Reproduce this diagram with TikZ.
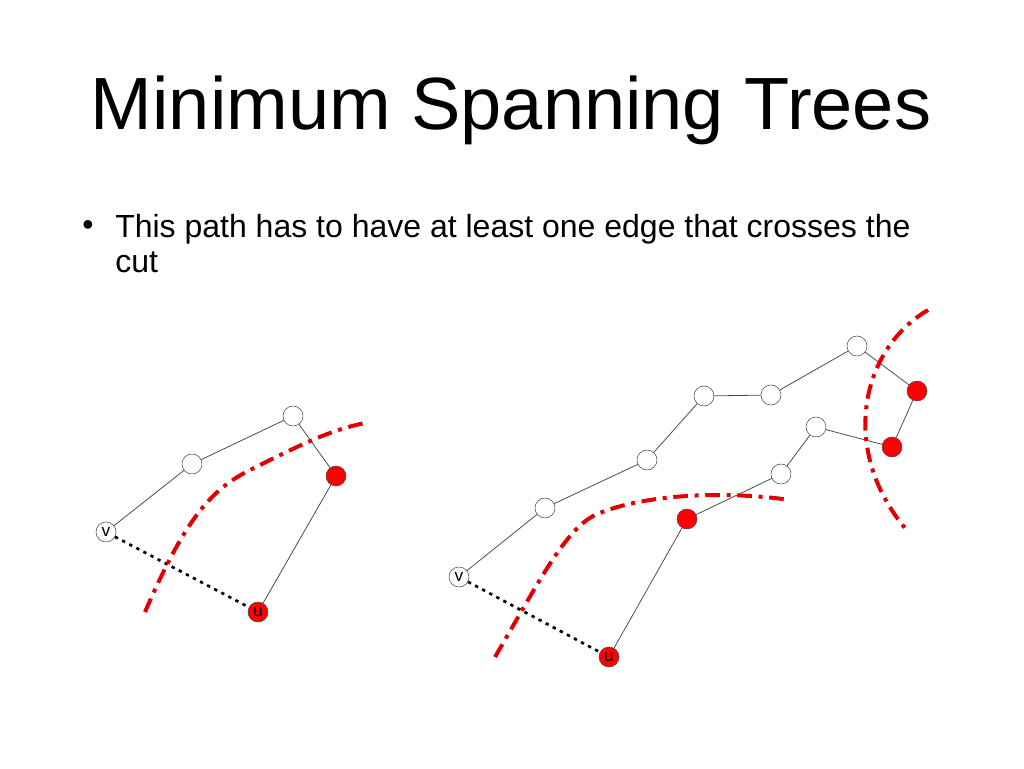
\documentclass[tikz,border=0pt]{standalone}
\usepackage{fontspec}
\setmainfont{Liberation Sans}
\begin{document}
\begin{tikzpicture}[x=0.75pt,y=-0.75pt,
  vtx/.style={circle,draw=black!70,fill=white,minimum size=15pt,inner sep=0pt,font=\fontsize{13}{13}\selectfont},
  rvtx/.style={vtx,fill=red},
  edge/.style={draw=black!70,line width=0.6pt},
  dotedge/.style={draw=black,line width=2pt,dash pattern=on 2.5pt off 3.5pt},
  cut/.style={draw=red!90!black,line width=3pt,dash pattern=on 11pt off 5pt on 3pt off 5pt}]
\useasboundingbox (0,0) rectangle (1024,768);
\node (title) at (511,110) {\fontsize{55.5}{60}\selectfont Minimum Spanning Trees};
\node (bul) at (88,228) {\fontsize{24}{24}\selectfont •};
\node[anchor=north west,align=left,inner sep=0pt,font=\fontsize{24}{26.5}\selectfont] (txt) at (115,214) {This path has to have at least one edge that crosses the\\ cut};
% left
\node[vtx] (lv) at (106,532) {v};
\node[vtx] (la) at (192,464) {};
\node[vtx] (lb) at (293,416) {};
\node[rvtx] (lc) at (336,476) {};
\node[rvtx] (lu) at (258,612) {u};
\draw[edge] (lv)--(la)--(lb)--(lc)--(lu);
\draw[dotedge] (lv)--(lu);
\draw[cut] (145,612) .. controls (185,520) and (210,490) .. (250,470) .. controls (300,445) and (330,430) .. (365,423);
% right
\node[vtx] (rv) at (459,577) {v};
\node[vtx] (n1) at (545,508) {};
\node[vtx] (n2) at (647,460) {};
\node[vtx] (n3) at (704,396) {};
\node[vtx] (n4) at (771,395) {};
\node[vtx] (n5) at (857,346) {};
\node[rvtx] (r1) at (917,391) {};
\node[rvtx] (r2) at (892,447) {};
\node[vtx] (n6) at (816,427) {};
\node[vtx] (n7) at (781,474) {};
\node[rvtx] (r3) at (687,519) {};
\node[rvtx] (ru) at (609,657) {u};
\draw[edge] (rv)--(n1)--(n2)--(n3)--(n4)--(n5)--(r1)--(r2)--(n6)--(n7)--(r3)--(ru);
\draw[dotedge] (rv)--(ru);
\draw[cut] (495,657) .. controls (540,580) and (565,530) .. (595,515) .. controls (640,495) and (720,490) .. (790,500);
\draw[cut] (928,310) .. controls (860,350) and (840,450) .. (905,528);
\end{tikzpicture}
\end{document}
